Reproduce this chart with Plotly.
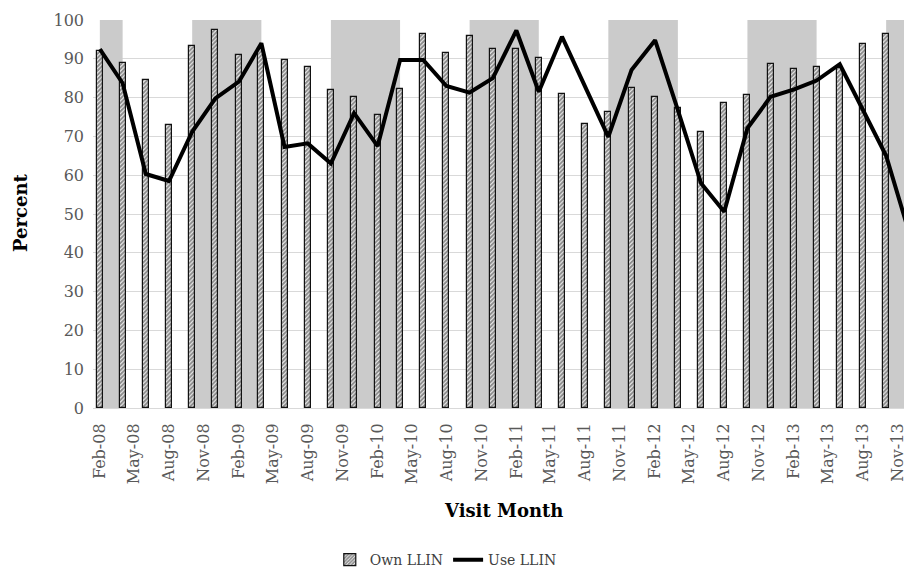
import plotly.graph_objects as go

# ---- data ----
visit_months = [
    "2008-02-01", "2008-04-01", "2008-06-01", "2008-08-01", "2008-10-01", "2008-12-01",
    "2009-02-01", "2009-04-01", "2009-06-01", "2009-08-01", "2009-10-01", "2009-12-01",
    "2010-02-01", "2010-04-01", "2010-06-01", "2010-08-01", "2010-10-01", "2010-12-01",
    "2011-02-01", "2011-04-01", "2011-06-01", "2011-08-01", "2011-10-01", "2011-12-01",
    "2012-02-01", "2012-04-01", "2012-06-01", "2012-08-01", "2012-10-01", "2012-12-01",
    "2013-02-01", "2013-04-01", "2013-06-01", "2013-08-01", "2013-10-01", "2013-12-01",
]
own_llin = [
    92.0, 89.0, 84.5, 73.0, 93.3, 97.4,
    91.0, 92.5, 89.7, 88.0, 82.0, 80.2,
    75.5, 82.1, 96.4, 91.4, 95.9, 92.4,
    92.4, 90.3, 80.9, 73.1, 76.4, 82.6,
    80.1, 77.2, 71.2, 78.5, 80.8, 88.7,
    87.3, 87.9, 87.6, 93.7, 96.4, None,
]
use_llin = [
    92.5, 83.7, 60.3, 58.5, 71.2, 79.8,
    84.1, 94.0, 67.3, 68.2, 63.0, 76.0,
    67.5, 89.7, 89.7, 83.0, 81.3, 85.0,
    97.3, 81.5, 95.7, 83.0, 69.9, 87.1,
    94.8, 76.8, 57.9, 50.6, 72.1, 80.2,
    82.1, 84.4, 88.6, 76.8, 65.0, 45.0,
]
# shaded season bands (start, end)
band_starts = ["2008-02-01", "2008-10-01", "2009-10-01", "2010-10-01", "2011-10-01", "2012-10-01", "2013-10-01"]
band_ends = ["2008-04-01", "2009-04-01", "2010-04-01", "2011-04-01", "2012-04-01", "2013-04-01", "2014-04-01"]
y_ticks = [0, 10, 20, 30, 40, 50, 60, 70, 80, 90, 100]

SERIF = "DejaVu Serif"

fig = go.Figure()

fig.add_trace(go.Bar(
    x=visit_months, y=own_llin, name="Own LLIN",
    width=15.8 * 86400000,
    marker=dict(
        color="white",
        line=dict(color="#111111", width=1.2),
        pattern=dict(shape="/", fgcolor="#1a1a1a", bgcolor="white", size=3, solidity=0.7),
    ),
))
fig.add_trace(go.Scatter(
    x=visit_months, y=use_llin, name="Use LLIN", mode="lines",
    line=dict(color="black", width=4),
))

for s, e in zip(band_starts, band_ends):
    fig.add_shape(type="rect", xref="x", yref="y", x0=s, x1=e, y0=0, y1=100,
                  fillcolor="#cbcbcb", line=dict(width=0), layer="between")

fig.update_layout(
    width=904, height=569,
    margin=dict(l=93, r=0, t=20, b=161, autoexpand=False),
    plot_bgcolor="white", paper_bgcolor="white",
    font=dict(family=SERIF, size=16, color="#595959"),
    showlegend=True,
    legend=dict(orientation="h", x=0.435, xanchor="center", y=-0.392, yanchor="middle",
                font=dict(family=SERIF, size=14, color="#404040"), traceorder="normal"),
    bargap=0,
)
fig.update_xaxes(
    type="date",
    range=["2008-01-14", "2013-11-17"],
    tick0="2008-02-01", dtick="M3", tickformat="%b-%y",
    tickangle=-90, ticks="", ticklabelstandoff=8, ticklabeloverflow="allow",
    showgrid=False, showline=True, linecolor="#d9d9d9", linewidth=1,
    automargin=False,
    tickfont=dict(family=SERIF, size=16, color="#595959"),
)
fig.update_yaxes(
    range=[0, 100], tickvals=y_ticks, ticks="", ticklabelstandoff=8,
    showgrid=True, gridcolor="#d9d9d9", gridwidth=1, zeroline=False,
    automargin=False,
    tickfont=dict(family=SERIF, size=16, color="#595959"),
)

fig.add_annotation(text="<b>Percent</b>", xref="paper", yref="paper",
                   x=(20 - 93) / 811, y=(408 - 213) / 388, textangle=-90, showarrow=False,
                   xanchor="center", yanchor="middle",
                   font=dict(family=SERIF, size=18, color="black"))
fig.add_annotation(text="<b>Visit Month</b>", xref="paper", yref="paper",
                   x=(503 - 93) / 811, y=(408 - 510) / 388, showarrow=False,
                   xanchor="center", yanchor="middle",
                   font=dict(family=SERIF, size=18, color="black"))

# remove the default page margin so the 904x569 figure fills the window exactly
fig.write_html("out.html",
               config={"displayModeBar": False},
               post_script="document.body.style.margin='0';document.body.style.overflow='hidden';")
